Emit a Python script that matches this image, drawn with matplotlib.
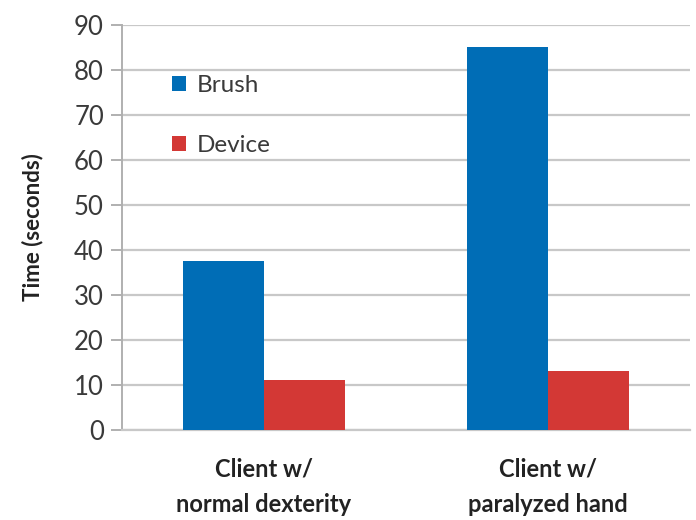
import numpy as np
import matplotlib.pyplot as plt

# task completion times per client type
categories = ["Client w/\nnormal dexterity", "Client w/\nparalyzed hand"]
brush = [37.6, 85.1]
device = [11.1, 13.1]
yticks = [0, 10, 20, 30, 40, 50, 60, 70, 80, 90]

plt.rcParams['font.family'] = ['Lato', 'DejaVu Sans']

fig = plt.figure(figsize=(6.96, 5.2), dpi=100)
ax = fig.add_axes([122 / 696, 90 / 520, 568 / 696, 405 / 520])

x = np.arange(len(categories))
w = 0.285
ax.bar(x - w / 2, brush, w, color='#006DB6', label='Brush', zorder=3)
ax.bar(x + w / 2, device, w, color='#D33835', label='Device', zorder=3)

ax.set_xlim(-0.5, 1.5)
ax.set_ylim(0, 90)
ax.set_yticks(yticks)
ax.yaxis.grid(True, color='#c8c8c8', lw=1.6, zorder=0)
ax.tick_params(axis='y', length=8, width=1.4, color='#b0b0b0', labelsize=18.5,
               labelcolor='#3a3a3a', pad=5)
ax.set_xticks(x)
ax.set_xticklabels(categories, fontsize=17, fontweight='bold', color='#222222',
                   linespacing=1.65)
ax.tick_params(axis='x', length=0, pad=20)

for s in ['top', 'right']:
    ax.spines[s].set_visible(False)
ax.spines['left'].set_color('#b0b0b0')
ax.spines['left'].set_linewidth(1.4)
ax.spines['bottom'].set_color('#c8c8c8')
ax.spines['bottom'].set_linewidth(1.6)

ax.set_ylabel('Time (seconds)', fontsize=16, fontweight='bold', color='#222222',
              labelpad=22)

ax.legend(loc='upper left', bbox_to_anchor=(0.05, 0.93), frameon=False,
          fontsize=17.5, handlelength=0.55, handleheight=0.55, handletextpad=0.45,
          labelspacing=1.6, labelcolor='#3a3a3a')

fig.savefig('out.png', dpi=100)
